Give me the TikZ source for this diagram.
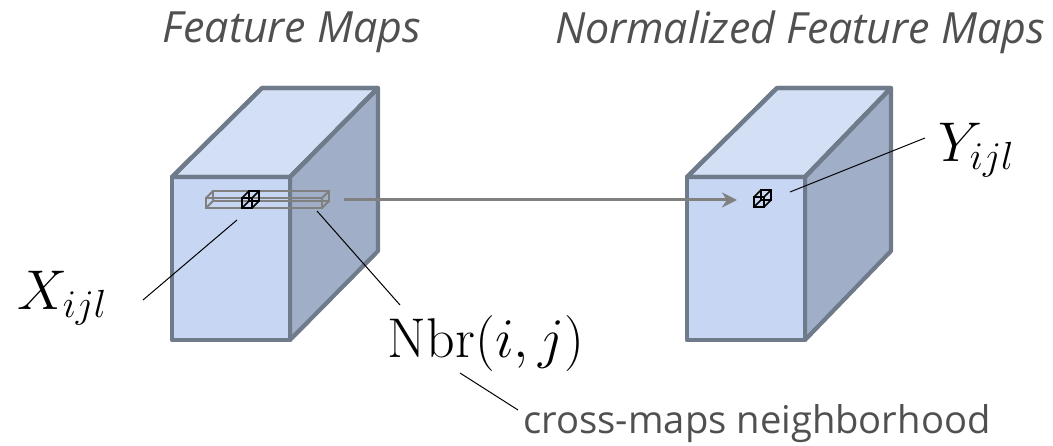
\documentclass[tikz,border=0pt]{standalone}
\usepackage{fix-cm}
\usepackage{amsmath,amssymb}
\usepackage[no-math]{fontspec}
\newfontfamily\titlefont{Open Sans}
\usepackage{tikz}
\usetikzlibrary{arrows.meta,calc}
\definecolor{boxfront}{HTML}{C6D6F3}
\definecolor{boxtop}{HTML}{D3DFF5}
\definecolor{boxside}{HTML}{A0AEC8}
\definecolor{boxedge}{HTML}{6F7A8B}
\definecolor{titlegray}{HTML}{505050}
\definecolor{bargray}{HTML}{808080}
\tikzset{
  >={Stealth[length=15pt,width=15pt]},
  % kuber
  front/.style={fill=boxfront,draw=boxedge,line width=4.2pt,line join=round},
  topface/.style={fill=boxtop,draw=boxedge,line width=4.2pt,line join=round},
  sideface/.style={fill=boxside,draw=boxedge,line width=4.2pt,line join=round},
  % text
  ttl/.style={font=\titlefont\fontsize{43}{46}\selectfont\itshape,text=titlegray,inner sep=0pt},
  lbl/.style={font=\fontsize{56}{60}\selectfont,text=black,inner sep=0pt},
  note/.style={font=\titlefont\fontsize{38.2}{42}\selectfont,text=titlegray,inner sep=0pt},
  lead/.style={draw=black,line width=1pt},
  flow/.style={->,draw=bargray,line width=3pt},
  bar/.style={draw=bargray,line width=2pt},
  cell/.style={draw=black,line width=1.6pt},
  pics/wirebox/.style n args={3}{code={
    \draw[#3] (0,0) rectangle (#1,#2);
    \draw[#3] (7,-7) rectangle ($(#1,#2)+(7,-7)$);
    \draw[#3] (0,0) -- (7,-7) (#1,0) -- ++(7,-7) (0,#2) -- ++(7,-7) (#1,#2) -- ++(7,-7);
  }},
}
\begin{document}
\begin{tikzpicture}[x=1pt,y=-1pt]
  \useasboundingbox (0,0) rectangle (1053,446);
  \fill[white] (0,0) rectangle (1053,446);
  % vänster kub
  \fill[topface] (172,177) -- (262,88) -- (378,88) -- (290,177) -- cycle;
  \fill[sideface] (290,177) -- (378,88) -- (378,251) -- (290,340) -- cycle;
  \fill[front] (172,177) rectangle (290,340);
  \draw[topface,fill=none] (172,177) -- (262,88) -- (378,88) -- (290,177) -- cycle;
  % höger kub
  \fill[topface] (687,177) -- (777,88) -- (891,88) -- (805,177) -- cycle;
  \fill[sideface] (805,177) -- (891,88) -- (891,251) -- (805,340) -- cycle;
  \fill[front] (687,177) rectangle (805,340);
  \draw[topface,fill=none] (687,177) -- (777,88) -- (891,88) -- (805,177) -- cycle;
  \pic at (206,198) {wirebox={116}{10}{bar}};
  \pic at (242,208) {wirebox={10}{-10}{cell}};
  \pic at (754,207) {wirebox={10}{-10}{cell}};
  \coordinate (flowstart) at (344,200);
  \coordinate (flowend) at (737,200);
  \draw[flow] (flowstart) -- (flowend);
  \node[ttl] (titleA) at (292,32) {Feature Maps};
  \node[ttl] (titleB) at (800,32) {Normalized Feature Maps};
  \node[lbl] (xijl) at (62,298) {$X_{ijl}$};
  \node[lbl] (yijl) at (976,150) {$Y_{ijl}$};
  \node[lbl] (nbr) at (486,344) {$\mathrm{Nbr}(i,j)$};
  \node[note] (cross) at (757,424) {cross-maps neighborhood};
  \coordinate (xa) at (143,300);
  \coordinate (xb) at (237,220);
  \coordinate (na) at (400,305);
  \coordinate (nb) at (317,211);
  \coordinate (ya) at (790,192);
  \coordinate (yb) at (925,138);
  \coordinate (ca) at (460,373);
  \coordinate (cb) at (518,410);
  \draw[lead] (xa) -- (xb);
  \draw[lead] (na) -- (nb);
  \draw[lead] (ya) -- (yb);
  \draw[lead] (ca) -- (cb);
\end{tikzpicture}
\end{document}
